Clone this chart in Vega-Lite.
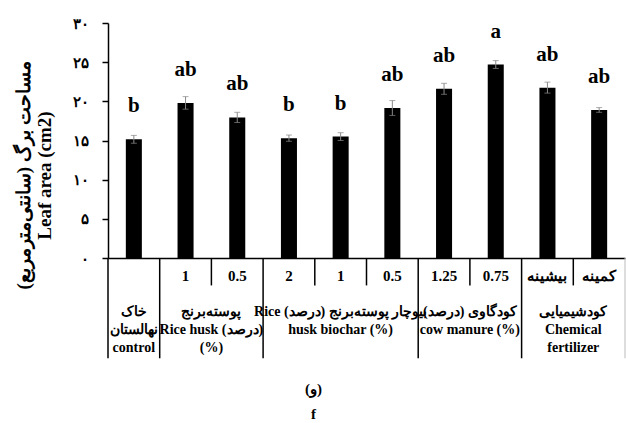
{
  "$schema": "https://vega.github.io/schema/vega-lite/v6.json",
  "width": 517,
  "height": 235,
  "autosize": {"type": "none"},
  "padding": {"left": 108, "top": 23, "right": 1, "bottom": 165},
  "background": "white",
  "config": {
    "view": {"stroke": null},
    "font": "Liberation Serif",
    "style": {"guide-title": {"lineBreak": "\n"}},
    "axisY": {
      "labelExpr": "['۰','۵','۱۰','۱۵','۲۰','۲۵','۳۰'][round(datum.value / 5)]",
      "labelOverlap": false,
      "grid": false,
      "domainColor": "black",
      "domainWidth": 1.5,
      "tickColor": "black",
      "tickSize": 6,
      "tickWidth": 1.5,
      "labelPadding": 14,
      "labelFont": "Liberation Serif",
      "labelFontSize": 15,
      "labelFontWeight": "bold",
      "labelColor": "black",
      "titleFont": "Liberation Serif",
      "titleFontSize": 19,
      "titleFontWeight": "bold",
      "titleColor": "black",
      "titleLineHeight": 21,
      "titleAngle": 270,
      "titleBaseline": "bottom",
      "titleX": -75,
      "titleY": 152
    }
  },
  "datasets": {
    "bars": [
      {"key": "control|", "v": 15.15, "e": 0.5, "sig": "b"},
      {"key": "rh|1", "v": 19.8, "e": 0.8, "sig": "ab"},
      {"key": "rh|0.5", "v": 17.95, "e": 0.65, "sig": "ab"},
      {"key": "bc|2", "v": 15.3, "e": 0.4, "sig": "b"},
      {"key": "bc|1", "v": 15.5, "e": 0.5, "sig": "b"},
      {"key": "bc|0.5", "v": 19.15, "e": 0.95, "sig": "ab"},
      {"key": "cm|1.25", "v": 21.6, "e": 0.7, "sig": "ab"},
      {"key": "cm|0.75", "v": 24.7, "e": 0.5, "sig": "a"},
      {"key": "cf|بیشینه", "v": 21.75, "e": 0.7, "sig": "ab"},
      {"key": "cf|کمینه", "v": 18.9, "e": 0.3, "sig": "ab"}
    ],
    "dividers": [
      {"pos": 0, "kind": "long"},
      {"pos": 1, "kind": "long"},
      {"pos": 2, "kind": "short"},
      {"pos": 3, "kind": "long"},
      {"pos": 4, "kind": "short"},
      {"pos": 5, "kind": "short"},
      {"pos": 6, "kind": "long"},
      {"pos": 7, "kind": "short"},
      {"pos": 8, "kind": "long"},
      {"pos": 9, "kind": "short"},
      {"pos": 10, "kind": "edge"}
    ],
    "groups": [
      {"pos": 0.5, "label": "خاک\nنهالستان\ncontrol"},
      {"pos": 2, "label": "پوسته‌برنج\nRice  husk (درصد)\n(%)"},
      {"pos": 4.5, "label": "Rice بیوچار پوسته‌برنج (درصد)\nhusk biochar (%)"},
      {"pos": 7, "label": "کودگاوی (درصد)\ncow manure (%)"},
      {"pos": 9, "label": "کودشیمیایی\nChemical\nfertilizer"}
    ]
  },
  "title": {
    "text": ["(و)", "f"],
    "orient": "bottom",
    "anchor": "middle",
    "dx": -53,
    "offset": 23,
    "font": "Liberation Serif",
    "fontSize": 15,
    "fontWeight": "bold",
    "lineHeight": 25,
    "color": "black"
  },
  "layer": [
    {
      "data": {"name": "bars"},
      "encoding": {
        "x": {
          "field": "key",
          "type": "nominal",
          "sort": null,
          "scale": {"paddingInner": 0.69, "paddingOuter": 0.345},
          "axis": {
            "title": null,
            "labelExpr": "split(datum.value, '|')[1]",
            "ticks": false,
            "tickSize": 0,
            "labelPadding": 10,
            "labelAngle": 0,
            "domainColor": "black",
            "domainWidth": 1.5,
            "labelFont": "Liberation Serif",
            "labelFontSize": 15,
            "labelFontWeight": "bold",
            "labelColor": "black"
          }
        },
        "y": {
          "field": "v",
          "type": "quantitative",
          "scale": {"domain": [0, 30], "nice": false},
          "axis": {
            "title": "مساحت برگ (سانتی‌مترمربع)\nLeaf area (cm2)",
            "values": [0, 5, 10, 15, 20, 25, 30]
          }
        }
      },
      "layer": [
        {
          "mark": {"type": "bar", "color": "black"}
        },
        {
          "mark": {"type": "errorbar", "ticks": {"size": 6, "color": "#888888"}, "color": "#888888", "thickness": 1},
          "encoding": {
            "yError": {"field": "e"}
          }
        },
        {
          "mark": {"type": "text", "dy": -33, "baseline": "middle", "font": "Liberation Serif", "fontSize": 21, "fontWeight": "bold", "color": "black"},
          "encoding": {
            "text": {"field": "sig", "type": "nominal"}
          }
        }
      ]
    },
    {
      "data": {"name": "dividers"},
      "transform": [{"filter": "datum.kind === 'long'"}],
      "mark": {"type": "rule", "color": "black", "strokeWidth": 1.5},
      "encoding": {
        "x": {"field": "pos", "type": "quantitative", "scale": {"domain": [0, 10], "nice": false, "zero": false}, "axis": null},
        "y": {"datum": 0, "type": "quantitative", "axis": {"title": "مساحت برگ (سانتی‌مترمربع)\nLeaf area (cm2)", "values": [0, 5, 10, 15, 20, 25, 30]}},
        "y2": {"datum": -12.8}
      }
    },
    {
      "data": {"name": "dividers"},
      "transform": [{"filter": "datum.kind === 'short'"}],
      "mark": {"type": "rule", "color": "black", "strokeWidth": 1.5},
      "encoding": {
        "x": {"field": "pos", "type": "quantitative", "scale": {"domain": [0, 10], "nice": false, "zero": false}, "axis": null},
        "y": {"datum": 0, "type": "quantitative", "axis": {"title": "مساحت برگ (سانتی‌مترمربع)\nLeaf area (cm2)", "values": [0, 5, 10, 15, 20, 25, 30]}},
        "y2": {"datum": -3.5}
      }
    },
    {
      "data": {"name": "dividers"},
      "transform": [{"filter": "datum.kind === 'edge'"}],
      "mark": {"type": "rule", "color": "#bbbbbb", "strokeWidth": 1},
      "encoding": {
        "x": {"field": "pos", "type": "quantitative", "scale": {"domain": [0, 10], "nice": false, "zero": false}, "axis": null},
        "y": {"datum": 0, "type": "quantitative", "axis": {"title": "مساحت برگ (سانتی‌مترمربع)\nLeaf area (cm2)", "values": [0, 5, 10, 15, 20, 25, 30]}},
        "y2": {"datum": -12.8}
      }
    },
    {
      "data": {"name": "groups"},
      "mark": {"type": "text", "baseline": "top", "align": "center", "lineBreak": "\n", "lineHeight": 18, "font": "Liberation Serif", "fontSize": 14, "fontWeight": "bold", "color": "black"},
      "encoding": {
        "x": {"field": "pos", "type": "quantitative", "scale": {"domain": [0, 10], "nice": false, "zero": false}, "axis": null},
        "y": {"datum": -6.0, "type": "quantitative", "axis": {"title": "مساحت برگ (سانتی‌مترمربع)\nLeaf area (cm2)", "values": [0, 5, 10, 15, 20, 25, 30]}},
        "text": {"field": "label", "type": "nominal"}
      }
    }
  ],
  "resolve": {"scale": {"x": "independent"}}
}
